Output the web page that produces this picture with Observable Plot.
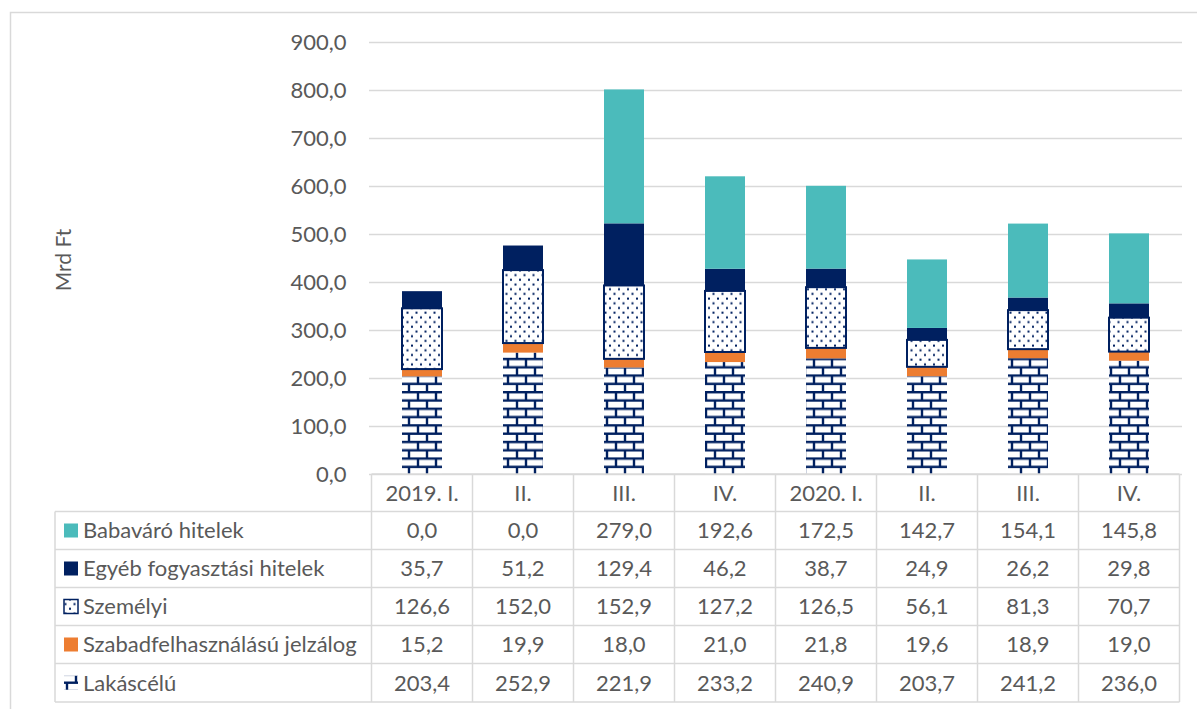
<!DOCTYPE html>
<html>
<head>
<meta charset="utf-8">
<script src="https://cdn.jsdelivr.net/npm/d3@7"></script>
<script src="https://cdn.jsdelivr.net/npm/@observablehq/plot@0.6"></script>
<style>
  html, body { margin: 0; padding: 0; background: #fff; }
  #chart { position: relative; width: 1197px; height: 709px; overflow: hidden; }
</style>
</head>
<body>
<div id="chart"></div>
<script>
// ---- data ----
const quarterIds = ["2019Q1", "2019Q2", "2019Q3", "2019Q4", "2020Q1", "2020Q2", "2020Q3", "2020Q4"];
const quarterLabels = ["2019. I.", "II.", "III.", "IV.", "2020. I.", "II.", "III.", "IV."];
const seriesNames = ["Lakáscélú", "Szabadfelhasználású jelzálog", "Személyi", "Egyéb fogyasztási hitelek", "Babaváró hitelek"];
const lakascelu = [203.4, 252.9, 221.9, 233.2, 240.9, 203.7, 241.2, 236.0];
const szabadfelh = [15.2, 19.9, 18.0, 21.0, 21.8, 19.6, 18.9, 19.0];
const szemelyi = [126.6, 152.0, 152.9, 127.2, 126.5, 56.1, 81.3, 70.7];
const egyeb = [35.7, 51.2, 129.4, 46.2, 38.7, 24.9, 26.2, 29.8];
const babavaro = [0.0, 0.0, 279.0, 192.6, 172.5, 142.7, 154.1, 145.8];
const yTicks = [0, 100, 200, 300, 400, 500, 600, 700, 800, 900];
const yTitle = "Mrd Ft";

const seriesValues = [lakascelu, szabadfelh, szemelyi, egyeb, babavaro];
const NAVY = "#002060", TEAL = "#4BBBBB", ORANGE = "#ED7D31", GRID = "#D9D9D9", TXT = "#595959";
const seriesFill = ["url(#brick)", ORANGE, "url(#dots)", NAVY, TEAL];
const seriesStroke = [null, null, NAVY, null, null];
const FS = 22;

const fmt = v => d3.format(".1f")(v).replace(".", ",");

// stacked long-form table
const rows = [];
quarterIds.forEach((q, i) => {
  let acc = 0;
  seriesValues.forEach((vals, s) => {
    const v = vals[i];
    rows.push({q, s, value: v, y1: acc, y2: acc + v});
    acc += v;
  });
});

const marks = [
  Plot.gridY(yTicks, {stroke: GRID, strokeOpacity: 1, strokeWidth: 1.5}),
  Plot.axisY(yTicks, {tickSize: 0, tickPadding: 23, tickFormat: fmt, fontSize: FS, label: null}),
];
seriesNames.forEach((name, s) => {
  marks.push(Plot.barY(rows.filter(d => d.s === s), {
    x: "q", y1: "y1", y2: "y2",
    fill: seriesFill[s],
    stroke: seriesStroke[s] || "none",
    strokeWidth: seriesStroke[s] ? 2 : 0,
    inset: 0
  }));
});

const svg = Plot.plot({
  width: 1197,
  height: 709,
  marginTop: 42,
  marginBottom: 235,
  marginLeft: 369,
  marginRight: 15,
  x: {domain: quarterIds, paddingInner: 0.6, paddingOuter: 0.3, axis: null},
  y: {domain: [0, 900], label: null},
  style: {fontFamily: "Lato, 'Open Sans', sans-serif", fontSize: FS + "px", color: TXT, background: "#fff"},
  marks
});

const root = d3.select(svg);
// patterns
const defs = root.insert("defs", ":first-child");
const brick = defs.append("pattern").attr("id", "brick").attr("patternUnits", "userSpaceOnUse")
  .attr("width", 18).attr("height", 16.6).attr("y", 474);
brick.append("rect").attr("width", 18).attr("height", 16.6).attr("fill", "#fff");
brick.append("g").attr("stroke", NAVY).attr("stroke-width", 2.4).attr("fill", "none")
  .call(g => {
    g.append("line").attr("x1", 0).attr("x2", 18).attr("y1", 1.2).attr("y2", 1.2);
    g.append("line").attr("x1", 0).attr("x2", 18).attr("y1", 9.5).attr("y2", 9.5);
    g.append("line").attr("x1", 4).attr("x2", 4).attr("y1", 1.2).attr("y2", 9.5);
    g.append("line").attr("x1", 13).attr("x2", 13).attr("y1", 9.5).attr("y2", 17.8);
  });
const dots = defs.append("pattern").attr("id", "dots").attr("patternUnits", "userSpaceOnUse")
  .attr("width", 9).attr("height", 9.4);
dots.append("rect").attr("width", 9).attr("height", 9.4).attr("fill", "#fff");
dots.append("rect").attr("x", 1.5).attr("y", 1.5).attr("width", 2).attr("height", 2).attr("fill", NAVY);
dots.append("rect").attr("x", 6).attr("y", 6.2).attr("width", 2).attr("height", 2).attr("fill", NAVY);

// outer frame
root.append("rect").attr("x", 10.5).attr("y", 12.5).attr("width", 1200).attr("height", 720)
  .attr("fill", "none").attr("stroke", GRID).attr("stroke-width", 1.5);

// y title
root.append("text").attr("transform", "translate(62,260) rotate(-90)")
  .attr("text-anchor", "middle").attr("dominant-baseline", "central")
  .attr("fill", TXT).style("font-size", "21px").text(yTitle);

// data table below the plot, aligned with the x band scale
const xs = svg.scale("x");
const step = xs.step, bw = xs.bandwidth;
const centers = quarterIds.map(q => xs.apply(q) + bw / 2);
const colLeft = centers[0] - step / 2, colRight = centers[centers.length - 1] + step / 2;
const tableLeft = 55;
const rowEdges = [474, 511.5, 549.5, 587.5, 625.5, 663.5, 702];
const tbl = root.append("g");
const lines = tbl.append("g").attr("stroke", GRID).attr("stroke-width", 1.5);
// horizontal
rowEdges.forEach((y, i) => {
  lines.append("line").attr("x1", i === 0 ? colLeft : tableLeft).attr("x2", colRight).attr("y1", y).attr("y2", y);
});
// vertical
lines.append("line").attr("x1", tableLeft).attr("x2", tableLeft).attr("y1", rowEdges[1]).attr("y2", rowEdges[6]);
centers.forEach(c => {
  lines.append("line").attr("x1", c - step / 2).attr("x2", c - step / 2).attr("y1", rowEdges[0]).attr("y2", rowEdges[6]);
});
lines.append("line").attr("x1", colRight).attr("x2", colRight).attr("y1", rowEdges[0]).attr("y2", rowEdges[6]);

const textG = tbl.append("g").attr("fill", TXT).style("font-size", FS + "px");
// header
quarterLabels.forEach((lab, i) => {
  textG.append("text").attr("x", centers[i]).attr("y", (rowEdges[0] + rowEdges[1]) / 2)
    .attr("text-anchor", "middle").attr("dy", "0.36em").text(lab);
});
// rows, top -> bottom: reverse of stacking order
const tableOrder = [4, 3, 2, 1, 0];
tableOrder.forEach((s, r) => {
  const yc = (rowEdges[r + 1] + rowEdges[r + 2]) / 2;
  tbl.append("rect").attr("x", 64).attr("y", yc - 7).attr("width", 14).attr("height", 14)
    .attr("fill", seriesFill[s]).attr("stroke", seriesStroke[s] || "none").attr("stroke-width", 1.5);
  textG.append("text").attr("x", 83).attr("y", yc).attr("text-anchor", "start").attr("dy", "0.36em").text(seriesNames[s]);
  seriesValues[s].forEach((v, i) => {
    textG.append("text").attr("x", centers[i]).attr("y", yc).attr("text-anchor", "middle").attr("dy", "0.36em").text(fmt(v));
  });
});

document.getElementById("chart").appendChild(svg);
</script>
</body>
</html>
